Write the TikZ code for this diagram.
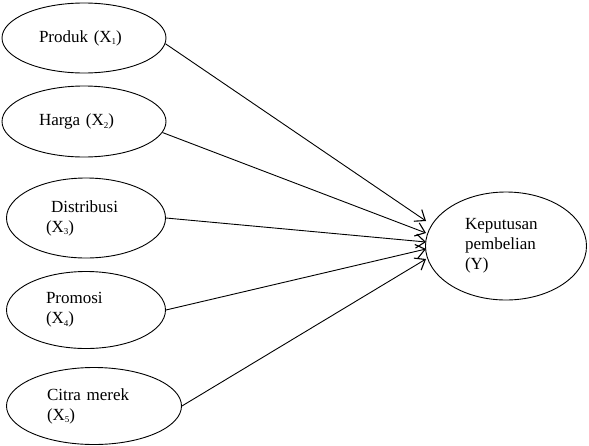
\documentclass[tikz,border=0pt]{standalone}
\usepackage{fontspec}
\setmainfont{Liberation Serif}
\usetikzlibrary{shapes.geometric,arrows.meta}

\newcommand{\idx}[1]{\raisebox{-2.5pt}{\fontsize{9}{9}\selectfont #1}}

\begin{document}
\begin{tikzpicture}[x=1pt,y=-1pt,
    var/.style={ellipse,draw,line width=0.9pt,inner sep=0pt,align=left,
      font=\fontsize{17}{20}\selectfont},
    link/.style={line width=0.9pt,-{Straight Barb[length=9pt,width=14pt,line width=1.1pt]}}]

\useasboundingbox (0,0) rectangle (589,445);

\node[var,minimum width=164pt,minimum height=70pt,text width=90pt] (x1) at (84,38) {Produk (X\idx{1})};
\node[var,minimum width=164pt,minimum height=71pt,text width=90pt] (x2) at (84,121.5) {Harga (X\idx{2})};
\node[var,minimum width=159pt,minimum height=80pt,text width=80pt] (x3) at (86,218) {\hspace{5pt}Distribusi\\(X\idx{3})};
\node[var,minimum width=159pt,minimum height=77pt,text width=80pt] (x4) at (86,310) {Promosi\\(X\idx{4})};
\node[var,minimum width=175pt,minimum height=77pt,text width=94pt] (x5) at (94,406) {Citra merek\\(X\idx{5})};

\node[var,minimum width=161pt,minimum height=108pt,text width=82pt] (y) at (506,246) {Keputusan\\pembelian\\(Y)};

% arrow tips in front of Y
\coordinate (t1) at (426,221);
\coordinate (t2) at (426,233);
\coordinate (t3) at (426,242);
\coordinate (t4) at (426,249);
\coordinate (t5) at (426,259);

\draw[link] (x1.-4) -- (t1);
\draw[link] (x2.-8) -- (t2);
\draw[link] (x3.east) -- (t3);
\draw[link] (x4.east) -- (t4);
\draw[link] (x5.east) -- (t5);

\end{tikzpicture}
\end{document}
